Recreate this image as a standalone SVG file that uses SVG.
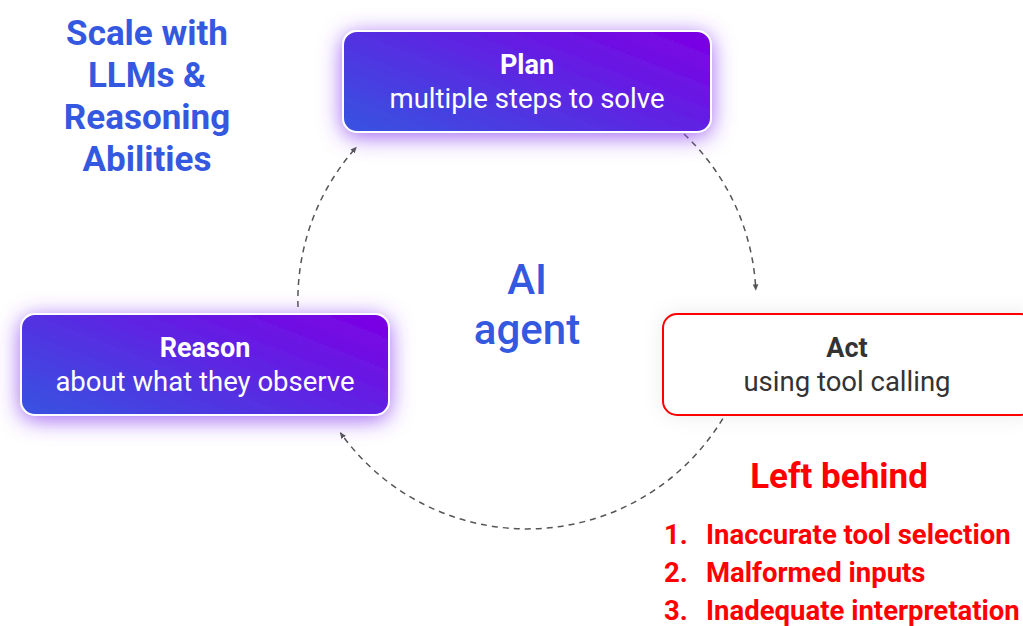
<svg xmlns="http://www.w3.org/2000/svg" width="1023" height="626" viewBox="0 0 1023 626">
<defs>
<linearGradient id="grad" x1="0" y1="0.85" x2="1" y2="0.15">
<stop offset="0" stop-color="#3a4fe0"/>
<stop offset="1" stop-color="#7a03e4"/>
</linearGradient>
<filter id="glow" x="-20%" y="-50%" width="140%" height="200%">
<feDropShadow dx="0" dy="4" stdDeviation="11" flood-color="#8a3ff0" flood-opacity="0.8"/>
</filter>
<filter id="soft" x="-20%" y="-40%" width="140%" height="180%">
<feDropShadow dx="0" dy="0" stdDeviation="10" flood-color="#000" flood-opacity="0.08"/>
</filter>
<marker id="arr" viewBox="0 0 10 10" refX="8" refY="5" markerWidth="7" markerHeight="7" orient="auto" markerUnits="userSpaceOnUse">
<path d="M0,1 L9,5 L0,9 Z" fill="#555"/>
</marker>
<style>
text{font-family:Roboto,"Liberation Sans",sans-serif}
.box{fill:url(#grad);stroke:#fff;stroke-width:2;filter:url(#glow)}
.title{font-size:27px;font-weight:700;text-anchor:middle}
.sub{font-size:27.5px;text-anchor:middle}
.w{fill:#fff}
.d{fill:#333}
.conn{fill:none;stroke:#555;stroke-width:1.5;stroke-dasharray:6 5}
.blue{fill:#3558e0}
.red{fill:#ff0000;font-weight:700}
</style>
</defs>
<rect width="1023" height="626" fill="#fff"/>

<g id="connectors">
<path class="conn" d="M684,134 A229,229 0 0 1 755.8,290" marker-end="url(#arr)"/>
<path class="conn" d="M722.8,418.6 A229,229 0 0 1 340.4,432.7" marker-end="url(#arr)"/>
<path class="conn" d="M298,307 A229,229 0 0 1 356.3,147.3" marker-end="url(#arr)"/>
</g>

<g id="plan">
<rect class="box" x="343" y="31" width="368" height="101" rx="14"/>
<text class="title w" x="527" y="74">Plan</text>
<text class="sub w" x="527" y="108">multiple steps to solve</text>
</g>

<g id="reason">
<rect class="box" x="21" y="314" width="368" height="101" rx="14"/>
<text class="title w" x="205" y="357">Reason</text>
<text class="sub w" x="205" y="391">about what they observe</text>
</g>

<g id="act">
<rect x="663" y="314" width="372" height="101" rx="14" fill="#fff" stroke="#ff0000" stroke-width="2" filter="url(#soft)"/>
<text class="title d" x="847" y="357">Act</text>
<text class="sub d" x="847" y="391">using tool calling</text>
</g>

<g id="center-label">
<text class="blue" x="527" y="294" font-size="42" font-weight="500" text-anchor="middle">AI</text>
<text class="blue" x="527" y="344" font-size="42" font-weight="500" text-anchor="middle">agent</text>
</g>

<g id="scale-note" font-size="35" font-weight="700" text-anchor="middle">
<text class="blue" x="147" y="45">Scale with</text>
<text class="blue" x="147" y="87">LLMs &amp;</text>
<text class="blue" x="147" y="129">Reasoning</text>
<text class="blue" x="147" y="171">Abilities</text>
</g>

<g id="left-behind">
<text class="red" x="839" y="488" font-size="35" text-anchor="middle">Left behind</text>
<g font-size="27.5">
<text class="red" x="664" y="544">1.</text>
<text class="red" x="706" y="544">Inaccurate tool selection</text>
<text class="red" x="664" y="582">2.</text>
<text class="red" x="706" y="582">Malformed inputs</text>
<text class="red" x="664" y="620">3.</text>
<text class="red" x="706" y="620">Inadequate interpretation</text>
</g>
</g>
</svg>
